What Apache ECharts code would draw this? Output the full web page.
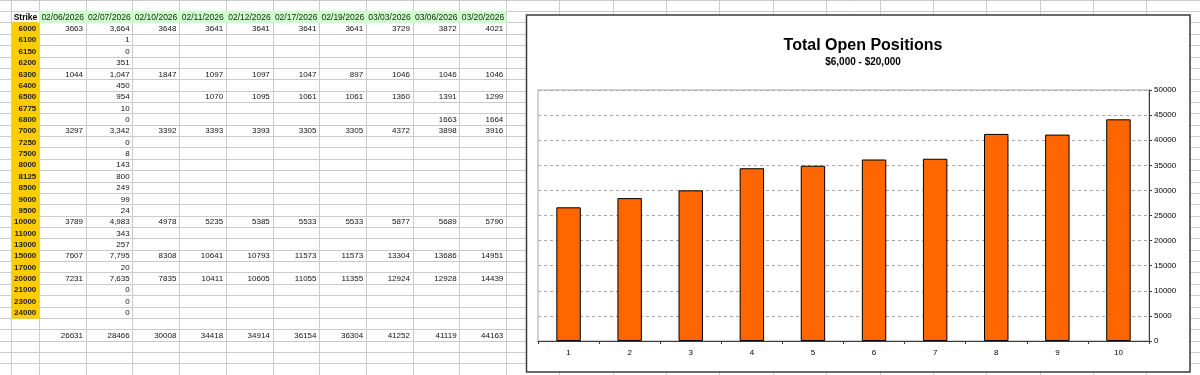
<!DOCTYPE html>
<html>
<head>
<meta charset="utf-8">
<script src="https://cdn.jsdelivr.net/npm/echarts@6/dist/echarts.min.js"></script>
<style>
  html, body { margin: 0; padding: 0; background: #fff; }
  #main { width: 1200px; height: 375px; }
</style>
</head>
<body>
<div id="main"></div>
<script>
var _ = null;
var dates = ['02/06/2026', '02/07/2026', '02/10/2026', '02/11/2026', '02/12/2026',
    '02/17/2026', '02/19/2026', '03/03/2026', '03/06/2026', '03/20/2026'];
var strikes = [6000, 6100, 6150, 6200, 6300, 6400, 6500, 6775, 6800, 7000, 7250, 7500, 8000,
    8125, 8500, 9000, 9500, 10000, 11000, 13000, 15000, 17000, 20000, 21000, 23000, 24000];
// one array per expiry column, same order as strikes
var oi0206 = [3663,_,_,_,1044,_,_,_,_,3297,_,_,_,_,_,_,_,3789,_,_,7607,_,7231,_,_,_];
var oi0207 = [3664,1,0,351,1047,450,954,10,0,3342,0,8,143,800,249,99,24,4983,343,257,7795,20,7635,0,0,0];
var oi0210 = [3648,_,_,_,1847,_,_,_,_,3392,_,_,_,_,_,_,_,4978,_,_,8308,_,7835,_,_,_];
var oi0211 = [3641,_,_,_,1097,_,1070,_,_,3393,_,_,_,_,_,_,_,5235,_,_,10641,_,10411,_,_,_];
var oi0212 = [3641,_,_,_,1097,_,1095,_,_,3393,_,_,_,_,_,_,_,5385,_,_,10793,_,10605,_,_,_];
var oi0217 = [3641,_,_,_,1047,_,1061,_,_,3305,_,_,_,_,_,_,_,5533,_,_,11573,_,11055,_,_,_];
var oi0219 = [3641,_,_,_,897,_,1061,_,_,3305,_,_,_,_,_,_,_,5533,_,_,11573,_,11355,_,_,_];
var oi0303 = [3729,_,_,_,1046,_,1360,_,_,4372,_,_,_,_,_,_,_,5877,_,_,13304,_,12924,_,_,_];
var oi0306 = [3872,_,_,_,1046,_,1391,_,1663,3898,_,_,_,_,_,_,_,5689,_,_,13686,_,12928,_,_,_];
var oi0320 = [4021,_,_,_,1046,_,1299,_,1664,3916,_,_,_,_,_,_,_,5790,_,_,14951,_,14439,_,_,_];
var totals = [26631, 28466, 30008, 34418, 34914, 36154, 36304, 41252, 41119, 44163];
var barLabels = ['1', '2', '3', '4', '5', '6', '7', '8', '9', '10'];

var columns = [oi0206, oi0207, oi0210, oi0211, oi0212, oi0217, oi0219, oi0303, oi0306, oi0320];
var FONT = "'Liberation Sans', Arial, sans-serif";

// sheet layout: row 0 is the cut-off row above the header
var rowH = 11.54;
var rowCount = 33;
var rowIds = [];
for (var r = 0; r < rowCount; r++) rowIds.push(String(r));
var totalRow = strikes.length + 3;

function fmt(v, comma) {
    if (v === null) return '';
    return comma ? v.toLocaleString('en-US') : String(v);
}

var strikeCells = [{col: 0, row: 1, text: 'Strike', align: 'center', font: 'bold 8.5px ' + FONT, color: '#000'}];
strikes.forEach(function (k, i) {
    strikeCells.push({col: 0, row: i + 2, text: String(k), fill: '#FFCC00', align: 'right',
        font: 'bold 8px ' + FONT, color: '#222'});
});

var dataCells = [];
dates.forEach(function (d, j) {
    dataCells.push({col: j, row: 1, text: d, fill: '#CCFFCC', align: 'center', font: '8.5px ' + FONT, color: '#222'});
    columns[j].forEach(function (v, i) {
        if (v === null) return;
        dataCells.push({col: j, row: i + 2, text: fmt(v, j === 1), align: 'right', font: '8px ' + FONT, color: '#111'});
    });
    dataCells.push({col: j, row: totalRow, text: String(totals[j]), align: 'right', font: '8px ' + FONT, color: '#111'});
});

function cellRenderer(list) {
    return function (params, api) {
        var c = list[params.dataIndex];
        var p = api.coord([api.value(0), api.value(1)]);
        var s = api.size([1, 1]);
        var x0 = p[0] - s[0] / 2, y0 = p[1] - s[1] / 2;
        var kids = [];
        if (c.fill) {
            kids.push({type: 'rect', shape: {x: x0, y: y0 - 0.5, width: s[0], height: s[1] + 1},
                style: {fill: c.fill}});
        }
        kids.push({type: 'text', style: {
            text: c.text,
            x: c.align === 'right' ? x0 + s[0] - 3 : p[0],
            y: p[1] + 0.5,
            textAlign: c.align,
            textVerticalAlign: 'middle',
            font: c.font,
            fill: c.color
        }});
        return {type: 'group', children: kids};
    };
}

function sheetX(n, gridIndex) {
    var cats = [];
    for (var i = 0; i < n; i++) cats.push('c' + i);
    return {
        type: 'category', gridIndex: gridIndex, data: cats, z: 0,
        axisLine: {show: false}, axisTick: {show: false}, axisLabel: {show: false},
        splitLine: {show: true, interval: 0, showMinLine: gridIndex !== 0, lineStyle: {color: '#cbcbcb', width: 1}}
    };
}
function sheetY(gridIndex) {
    return {
        type: 'category', gridIndex: gridIndex, data: rowIds, inverse: true, z: 0,
        axisLine: {show: false}, axisTick: {show: false}, axisLabel: {show: false},
        splitLine: {show: true, interval: 0, lineStyle: {color: '#cbcbcb', width: 1}}
    };
}

var sheetTop = 6.8 - rowH;
var sheetH = rowH * rowCount;

var chart = echarts.init(document.getElementById('main'));
var option = {
    animation: false,
    backgroundColor: '#fff',
    title: {
        text: 'Total Open Positions',
        subtext: '$6,000 - $20,000',
        left: 858,
        top: 33,
        textAlign: 'center',
        itemGap: 3,
        z: 9,
        textStyle: {fontFamily: FONT, fontSize: 16, fontWeight: 'bold', color: '#000'},
        subtextStyle: {fontFamily: FONT, fontSize: 10, fontWeight: 'bold', color: '#000'}
    },
    grid: [
        {left: 0, top: sheetTop, width: 11.7, height: sheetH},
        {left: 11.7, top: sheetTop, width: 27.6, height: sheetH},
        {left: 39.3, top: sheetTop, width: 467, height: sheetH},
        {left: 506.3, top: sheetTop, width: 55.2 * 13, height: sheetH},
        {left: 538, top: 90, width: 611, height: 251, show: true, z: 6,
            backgroundColor: '#fff', borderColor: '#a6a6a6', borderWidth: 1}
    ],
    graphic: [{
        type: 'rect', z: 5,
        shape: {x: 526.5, y: 15, width: 663.5, height: 357},
        style: {fill: '#fff', stroke: '#3a3a3a', lineWidth: 1.5}
    }],
    xAxis: [
        sheetX(1, 0), sheetX(1, 1), sheetX(10, 2), sheetX(13, 3),
        {
            type: 'category', gridIndex: 4, data: barLabels, z: 7,
            axisLine: {lineStyle: {color: '#3a3a3a', width: 1}},
            axisTick: {show: true, alignWithLabel: false, length: 3, lineStyle: {color: '#3a3a3a'}},
            axisLabel: {fontFamily: FONT, fontSize: 8, color: '#000', margin: 8},
            splitLine: {show: false}
        }
    ],
    yAxis: [
        sheetY(0), sheetY(1), sheetY(2), sheetY(3),
        {
            type: 'value', gridIndex: 4, position: 'right', min: 0, max: 50000, interval: 5000, z: 7,
            axisLine: {show: true, lineStyle: {color: '#3a3a3a', width: 1}},
            axisTick: {show: true, length: 3, lineStyle: {color: '#3a3a3a'}},
            axisLabel: {fontFamily: FONT, fontSize: 8, color: '#000', margin: 5,
                formatter: function (v) { return String(v); }},
            splitLine: {show: true, lineStyle: {color: '#a6a6a6', type: [3, 3], width: 1}}
        }
    ],
    series: [
        {
            type: 'custom', xAxisIndex: 1, yAxisIndex: 1, z: 1, silent: true,
            renderItem: cellRenderer(strikeCells),
            data: strikeCells.map(function (c) { return [c.col, c.row]; })
        },
        {
            type: 'custom', xAxisIndex: 2, yAxisIndex: 2, z: 1, silent: true,
            renderItem: cellRenderer(dataCells),
            data: dataCells.map(function (c) { return [c.col, c.row]; })
        },
        {
            type: 'bar', xAxisIndex: 4, yAxisIndex: 4, z: 8,
            barWidth: '40%',
            itemStyle: {color: '#FF6600', borderColor: '#000', borderWidth: 1},
            data: totals
        }
    ]
};
chart.setOption(option);
</script>
</body>
</html>
